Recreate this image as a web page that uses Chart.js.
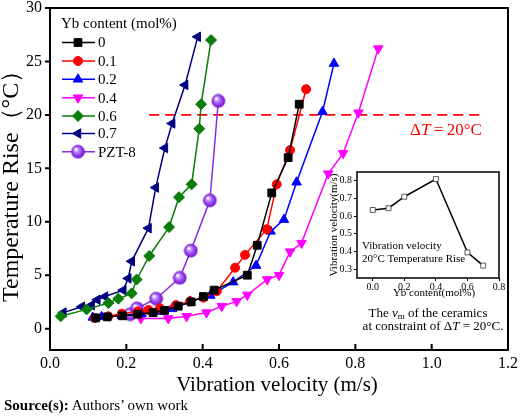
<!DOCTYPE html>
<html>
<head>
<meta charset="utf-8">
<script src="https://cdn.jsdelivr.net/npm/chart.js@4.4.1/dist/chart.umd.min.js"></script>
<style>
  html, body { margin: 0; padding: 0; background: #fff; }
  #wrap { position: relative; width: 520px; height: 417px; }
  #main { position: absolute; left: 0; top: 0; }
  #inset { position: absolute; left: 322px; top: 165px; }
  #fonte { position: absolute; left: 4px; top: 397px; font: 15px "Liberation Serif", serif; color: #000; white-space: nowrap; }
</style>
</head>
<body>
<div id="wrap">
  <canvas id="main" width="520" height="417"></canvas>
  <canvas id="inset" width="190" height="170"></canvas>
  <div id="fonte"><b>Source(s):</b> Authors’ own work</div>
</div>
<script>
// dados
const seriesNomes = ["0", "0.1", "0.2", "0.4", "0.6", "0.7", "PZT-8"];

const vel0 = [0.12, 0.15, 0.19, 0.23, 0.27, 0.30, 0.336, 0.37, 0.402, 0.43, 0.517, 0.543, 0.581, 0.624, 0.653];
const temp0 = [1.0, 1.1, 1.2, 1.35, 1.5, 1.7, 2.1, 2.5, 3.0, 3.6, 5.0, 7.8, 12.7, 16.0, 21.0];

const vel01 = [0.118, 0.153, 0.188, 0.23, 0.258, 0.288, 0.33, 0.367, 0.402, 0.437, 0.485, 0.511, 0.568, 0.594, 0.629, 0.671];
const temp01 = [1.0, 1.15, 1.4, 1.6, 1.75, 1.9, 2.2, 2.55, 2.9, 3.5, 5.7, 6.9, 9.3, 13.5, 16.7, 22.4];

const vel02 = [0.112, 0.135, 0.188, 0.24, 0.28, 0.32, 0.367, 0.42, 0.48, 0.54, 0.578, 0.613, 0.646, 0.714, 0.744];
const temp02 = [1.05, 1.1, 1.2, 1.4, 1.6, 1.85, 2.55, 3.1, 4.35, 5.9, 9.1, 10.2, 13.7, 20.3, 24.8];

const vel04 = [0.238, 0.31, 0.358, 0.41, 0.45, 0.489, 0.517, 0.569, 0.60, 0.629, 0.659, 0.729, 0.768, 0.808, 0.86];
const temp04 = [0.95, 0.95, 1.15, 1.5, 2.1, 2.55, 3.15, 4.6, 5.0, 7.2, 8.0, 14.5, 16.4, 20.2, 26.2];

const vel06 = [0.028, 0.096, 0.153, 0.179, 0.214, 0.227, 0.26, 0.312, 0.338, 0.371, 0.391, 0.396, 0.422];
const temp06 = [1.15, 1.8, 2.4, 2.8, 3.3, 4.6, 6.8, 9.5, 12.3, 13.5, 18.7, 21.0, 27.0];

const vel07 = [0.035, 0.083, 0.109, 0.124, 0.144, 0.192, 0.205, 0.214, 0.258, 0.277, 0.301, 0.320, 0.354, 0.387];
const temp07 = [1.5, 2.05, 2.2, 2.7, 3.0, 3.6, 4.7, 6.3, 9.4, 13.2, 16.9, 19.2, 22.8, 27.3];

const velPzt = [0.21, 0.228, 0.278, 0.34, 0.369, 0.419, 0.441];
const tempPzt = [1.35, 1.9, 2.8, 4.75, 7.3, 12.0, 21.3];

const limiteX = [0.26, 1.127];
const limiteY = [20, 20];

const xTicks = [0, 0.2, 0.4, 0.6, 0.8, 1.0, 1.2];
const yTicks = [0, 5, 10, 15, 20, 25, 30];

// inset
const ybConteudo = [0, 0.1, 0.2, 0.4, 0.6, 0.7];
const ybVel = [0.635, 0.645, 0.71, 0.81, 0.395, 0.32];
const insetXTicks = [0, 0.2, 0.4, 0.6, 0.8];
const insetYTicks = [0.3, 0.4, 0.5, 0.6, 0.7, 0.8];

const SERIF = '"Liberation Serif", "Times New Roman", serif';

const pontos = (xs, ys) => xs.map((x, i) => ({ x, y: ys[i] }));

// esfera roxa do PZT-8
function criarEsfera(r) {
  const c = document.createElement("canvas");
  c.width = c.height = r * 2 + 2;
  const g = c.getContext("2d");
  const cx = r + 1, cy = r + 1;
  const grad = g.createRadialGradient(cx - r * 0.35, cy - r * 0.4, r * 0.1, cx, cy, r);
  grad.addColorStop(0, "#ffffff");
  grad.addColorStop(0.35, "#b57bff");
  grad.addColorStop(0.8, "#8a2be2");
  grad.addColorStop(1, "#6a1bc0");
  g.fillStyle = grad;
  g.beginPath();
  g.arc(cx, cy, r, 0, Math.PI * 2);
  g.fill();
  g.strokeStyle = "#7a22d0";
  g.lineWidth = 0.8;
  g.stroke();
  return c;
}
const esfera = criarEsfera(6.5);

const estilo = (cor, forma, raio, rot) => ({
  borderColor: cor,
  backgroundColor: cor,
  borderWidth: 1.5,
  pointStyle: forma,
  pointRadius: raio,
  pointRotation: rot || 0,
  pointBorderWidth: 1,
  showLine: true,
  tension: 0
});

const datasets = [
  { label: seriesNomes[0], data: pontos(vel0, temp0), ...estilo("#000000", "rect", 5.5) },
  { label: seriesNomes[1], data: pontos(vel01, temp01), ...estilo("#ff0000", "circle", 4.5) },
  { label: seriesNomes[2], data: pontos(vel02, temp02), ...estilo("#0000ff", "triangle", 5.5) },
  { label: seriesNomes[3], data: pontos(vel04, temp04), ...estilo("#ff00ff", "triangle", 5.5, 180) },
  { label: seriesNomes[4], data: pontos(vel06, temp06), ...estilo("#0a7d0a", "rectRot", 5.5) },
  { label: seriesNomes[5], data: pontos(vel07, temp07), ...estilo("#000080", "triangle", 5.5, -90) },
  { label: seriesNomes[6], data: pontos(velPzt, tempPzt), ...estilo("#8a2be2", esfera, 6.5) }
];

const linhaLimite = {
  label: "limite",
  data: pontos(limiteX, limiteY),
  borderColor: "#ff0000",
  borderWidth: 1.8,
  borderDash: [10, 6],
  pointRadius: 0,
  showLine: true
};

// texto com pedaços de fontes diferentes
function textoRico(ctx, partes, x, y, align) {
  let total = 0;
  partes.forEach(p => { ctx.font = p.font; p.w = ctx.measureText(p.t).width; total += p.w; });
  let cx = align === "center" ? x - total / 2 : x;
  ctx.textAlign = "left";
  ctx.textBaseline = "middle";
  partes.forEach(p => {
    ctx.font = p.font;
    ctx.fillText(p.t, cx, y + (p.dy || 0));
    cx += p.w;
  });
}

const molduraPrincipal = {
  id: "molduraPrincipal",
  afterDraw(chart) {
    const { ctx, chartArea: a, scales } = chart;
    ctx.save();
    ctx.strokeStyle = "#000";
    ctx.lineWidth = 2;
    ctx.strokeRect(a.left, a.top, a.right - a.left, a.bottom - a.top);
    ctx.beginPath();
    yTicks.forEach(v => {
      const py = scales.y.getPixelForValue(v);
      ctx.moveTo(a.left - 5, py); ctx.lineTo(a.left, py);
    });
    xTicks.forEach(v => {
      const px = scales.x.getPixelForValue(v);
      ctx.moveTo(px, a.bottom); ctx.lineTo(px, a.bottom - 6);
    });
    ctx.stroke();

    // títulos dos eixos
    ctx.fillStyle = "#000";
    ctx.font = "21px " + SERIF;
    ctx.textAlign = "center";
    ctx.textBaseline = "middle";
    ctx.fillText("Vibration velocity (m/s)", (a.left + a.right) / 2 - 2, 385);
    ctx.save();
    ctx.translate(18, 302);
    ctx.rotate(-Math.PI / 2);
    ctx.font = "24px " + SERIF;
    ctx.textAlign = "left";
    ctx.textBaseline = "alphabetic";
    ctx.fillText("Temperature Rise（°C）", 0, 0);
    ctx.restore();

    // legenda
    ctx.font = "15px " + SERIF;
    ctx.textAlign = "left";
    ctx.textBaseline = "middle";
    ctx.fillText("Yb content (mol%)", 61, 24);
    const linhasY = [42.5, 61, 79.3, 97.7, 116, 133.5, 151.7];
    datasets.forEach((ds, i) => {
      const y = linhasY[i];
      ctx.strokeStyle = ds.borderColor;
      ctx.lineWidth = 1.5;
      ctx.beginPath();
      ctx.moveTo(62, y); ctx.lineTo(95, y);
      ctx.stroke();
      ctx.fillStyle = ds.backgroundColor;
      ctx.lineWidth = 1;
      Chart.helpers.drawPoint(ctx, { pointStyle: ds.pointStyle, radius: ds.pointRadius, rotation: ds.pointRotation, borderWidth: 1 }, 78, y);
      ctx.fillStyle = "#000";
      ctx.font = "15px " + SERIF;
      ctx.textBaseline = "middle";
      ctx.fillText(ds.label, 98, y + 1);
    });

    // rótulo do limite
    ctx.fillStyle = "#ff0000";
    textoRico(ctx, [
      { t: "Δ", font: "17px " + SERIF },
      { t: "T", font: "italic 17px " + SERIF },
      { t: "\u2009=\u200920°C", font: "17px " + SERIF }
    ], 410, 131, "left");
    ctx.restore();
  }
};

new Chart(document.getElementById("main"), {
  type: "scatter",
  data: { datasets: [...datasets, linhaLimite] },
  options: {
    responsive: false,
    animation: false,
    events: [],
    layout: { padding: { top: 0, right: 12, left: 0, bottom: 0 } },
    plugins: { legend: { display: false }, tooltip: { enabled: false } },
    scales: {
      x: {
        type: "linear", min: 0, max: 1.2,
        afterFit: s => { s.height = 67; },
        afterBuildTicks: s => { s.ticks = xTicks.map(v => ({ value: v })); },
        grid: { display: false, drawTicks: true, tickLength: 6 },
        border: { display: false },
        ticks: { padding: 0, color: "#000", font: { family: SERIF, size: 16, lineHeight: 1 }, callback: v => v.toFixed(1) }
      },
      y: {
        type: "linear", min: -2, max: 30,
        afterFit: s => { s.width = 50; },
        afterBuildTicks: s => { s.ticks = yTicks.map(v => ({ value: v })); },
        grid: { display: false, drawTicks: true, tickLength: 8 },
        border: { display: false },
        ticks: { padding: 0, color: "#000", font: { family: SERIF, size: 16, lineHeight: 1 }, callback: v => String(v) }
      }
    }
  },
  plugins: [molduraPrincipal]
});

// gráfico pequeno
const molduraInset = {
  id: "molduraInset",
  afterDraw(chart) {
    const { ctx, chartArea: a } = chart;
    ctx.save();
    ctx.strokeStyle = "#000";
    ctx.lineWidth = 1.5;
    ctx.strokeRect(a.left, a.top, a.right - a.left, a.bottom - a.top);
    ctx.fillStyle = "#000";
    ctx.font = "11px " + SERIF;
    ctx.textAlign = "center";
    ctx.textBaseline = "middle";
    ctx.fillText("Yb content(mol%)", 112, 128);
    ctx.save();
    ctx.translate(12, (a.top + a.bottom) / 2);
    ctx.rotate(-Math.PI / 2);
    ctx.fillText("Vibration velocity(m/s)", 0, 0);
    ctx.restore();
    ctx.textAlign = "left";
    ctx.fillText("Vibration velocity", 40, 81);
    ctx.fillText("20°C Temperature Rise", 40, 94);

    textoRico(ctx, [
      { t: "The ", font: "13px " + SERIF },
      { t: "v", font: "italic 13px " + SERIF },
      { t: "m", font: "9px " + SERIF, dy: 3 },
      { t: " of the ceramics", font: "13px " + SERIF }
    ], 106, 149, "center");
    textoRico(ctx, [
      { t: "at constraint of Δ", font: "13px " + SERIF },
      { t: "T", font: "italic 13px " + SERIF },
      { t: " = 20°C.", font: "13px " + SERIF }
    ], 111, 162, "center");
    ctx.restore();
  }
};

new Chart(document.getElementById("inset"), {
  type: "scatter",
  data: {
    datasets: [{
      data: pontos(ybConteudo, ybVel),
      showLine: true,
      borderColor: "#000",
      borderWidth: 1.5,
      pointStyle: "rect",
      pointRadius: 3.5,
      pointBackgroundColor: "#fff",
      pointBorderColor: "#333",
      pointBorderWidth: 0.8
    }]
  },
  options: {
    responsive: false,
    animation: false,
    events: [],
    layout: { padding: { top: 6, right: 13, left: 0, bottom: 0 } },
    plugins: { legend: { display: false }, tooltip: { enabled: false } },
    scales: {
      x: {
        type: "linear", min: -0.1, max: 0.8,
        afterFit: s => { s.height = 57; },
        afterBuildTicks: s => { s.ticks = insetXTicks.map(v => ({ value: v })); },
        grid: { drawOnChartArea: false, drawTicks: true, tickLength: 3, color: "#000" },
        border: { display: false },
        ticks: { padding: 1, color: "#000", font: { family: SERIF, size: 10, lineHeight: 1 }, callback: v => v.toFixed(1) }
      },
      y: {
        type: "linear", min: 0.25, max: 0.85,
        afterFit: s => { s.width = 35; },
        afterBuildTicks: s => { s.ticks = insetYTicks.map(v => ({ value: v })); },
        grid: { drawOnChartArea: false, drawTicks: true, tickLength: 3, color: "#000" },
        border: { display: false },
        ticks: { padding: 2, color: "#000", font: { family: SERIF, size: 10, lineHeight: 1 }, callback: v => v.toFixed(1) }
      }
    }
  },
  plugins: [molduraInset]
});
</script>
</body>
</html>
